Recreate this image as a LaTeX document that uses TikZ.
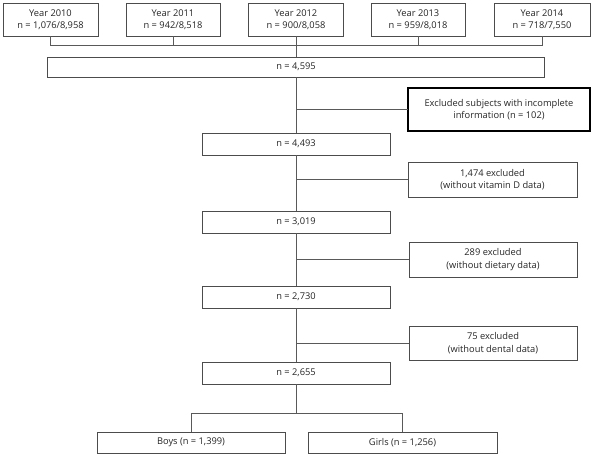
\documentclass[tikz,border=0pt]{standalone}
\usepackage{fontspec}
\setmainfont{Open Sans}
\begin{document}
\begin{tikzpicture}[x=1pt,y=-1pt,
  box/.style={draw=black!70, line width=0.8pt, rectangle, inner sep=0pt, outer sep=0pt, align=center, font=\fontsize{9.3}{12.5}\selectfont, text=black!85},
  boldbox/.style={box, draw=black, line width=1.5pt},
  conn/.style={draw=black!65, line width=0.8pt}]
\useasboundingbox (0,0) rectangle (597,455);
\fill[white] (0,0) rectangle (597,455);
% year boxes
\node[box, minimum width=95pt, minimum height=33pt] (y10) at (50.5,19.5) {Year 2010\\n = 1,076/8,958};
\node[box, minimum width=94pt, minimum height=33pt] (y11) at (173,19.5) {Year 2011\\n = 942/8,518};
\node[box, minimum width=95pt, minimum height=33pt] (y12) at (296,19.5) {Year 2012\\n = 900/8,058};
\node[box, minimum width=94pt, minimum height=33pt] (y13) at (418,19.5) {Year 2013\\n = 959/8,018};
\node[box, minimum width=96pt, minimum height=33pt] (y14) at (542,19.5) {Year 2014\\n = 718/7,550};
\coordinate (busL) at (50.5,45);
\coordinate (busR) at (542,45);
% main boxes
\node[box, minimum width=497pt, minimum height=20pt] (n1) at (296,67) {n = 4,595};
\node[boldbox, minimum width=182pt, minimum height=43pt] (e1) at (499,109.5) {Excluded subjects with incomplete\\information (n = 102)};
\node[box, minimum width=188pt, minimum height=22pt] (n2) at (296,144) {n = 4,493};
\node[box, minimum width=169pt, minimum height=35pt] (e2) at (492.5,179.5) {1,474 excluded\\(without vitamin D data)};
\node[box, minimum width=188pt, minimum height=22pt] (n3) at (296,222) {n = 3,019};
\node[box, minimum width=168pt, minimum height=35pt] (e3) at (493,259.5) {289 excluded\\(without dietary data)};
\node[box, minimum width=188pt, minimum height=22pt] (n4) at (296,297) {n = 2,730};
\node[box, minimum width=168pt, minimum height=34pt] (e4) at (493,343) {75 excluded\\(without dental data)};
\node[box, minimum width=188pt, minimum height=22pt] (n5) at (296,373) {n = 2,655};
\node[box, minimum width=188pt, minimum height=21pt] (boys) at (191,442.5) {Boys (n = 1,399)};
\node[box, minimum width=189pt, minimum height=21pt] (girls) at (402.5,442.5) {Girls (n = 1,256)};
\coordinate (split) at (296,413);
% connectors
\draw[conn] (y10.south) -- (busL) -- (busR) -- (y14.south);
\draw[conn] (y11.south) -- (y11.south |- busL);
\draw[conn] (y13.south) -- (y13.south |- busL);
\draw[conn] (y12.south) -- (n1.north);
\draw[conn] (n1.south) -- (n2.north);
\draw[conn] (n1.south |- e1.west) -- (e1.west);
\draw[conn] (n2.south) -- (n3.north);
\draw[conn] (n2.south |- e2.west) -- (e2.west);
\draw[conn] (n3.south) -- (n4.north);
\draw[conn] (n3.south |- e3.west) -- (e3.west);
\draw[conn] (n4.south) -- (n5.north);
\draw[conn] (n4.south |- e4.west) -- (e4.west);
\draw[conn] (n5.south) -- (split);
\draw[conn] (boys.north) -- (boys.north |- split) -- (girls.north |- split) -- (girls.north);
\end{tikzpicture}
\end{document}
